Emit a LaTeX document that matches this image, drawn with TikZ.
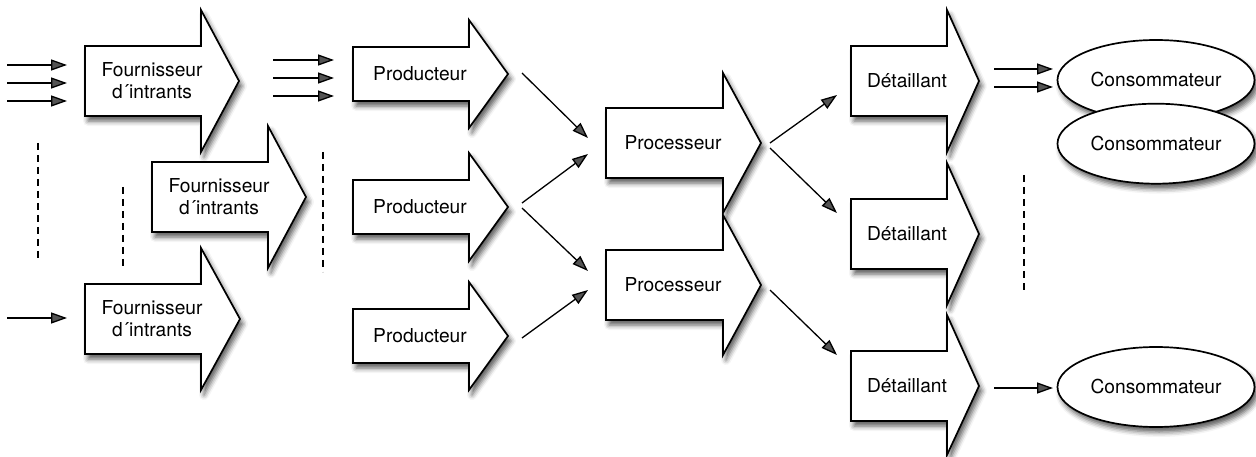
\documentclass[tikz,border=0pt]{standalone}
\usepackage{fontspec}
\setmainfont{TeX Gyre Heros}
\usepackage{tikz}
\usetikzlibrary{positioning}
\usetikzlibrary{arrows.meta}
\usetikzlibrary{shapes.geometric}
\usetikzlibrary{shadows.blur}

\tikzset{
  softshadow/.style={blur shadow={shadow xshift=3pt,shadow yshift=-5pt,shadow blur radius=5pt,shadow opacity=65}},
  flowbox/.style={draw=black,fill=white,line width=1.7pt,line join=miter,softshadow},
  txt/.style={align=center,inner sep=0pt,font=\fontsize{19.2}{22}\selectfont},
  conso/.style={ellipse,draw=black,fill=white,line width=1.7pt,minimum width=197pt,minimum height=80pt,inner sep=0pt,font=\fontsize{19.2}{22}\selectfont,softshadow},
  flow/.style={line width=1.3pt},
  sep/.style={dash pattern=on 7pt off 5pt,line width=1.2pt}
}

\begin{document}
\begin{tikzpicture}[x=1pt,y=-1pt,>={Triangle[length=16pt,width=11pt]}]
\useasboundingbox (0,0) rectangle (1256,457);

% fournisseurs
\draw[flowbox] (85,46) -- (201,46) -- (201,10) -- (239,81) -- (201,152) -- (201,116) -- (85,116) -- cycle;
\node[txt] (four1) at (152,81) {Fournisseur\\d´intrants};
\draw[flowbox] (152,162) -- (268,162) -- (268,126) -- (306,197) -- (268,268) -- (268,232) -- (152,232) -- cycle;
\node[txt] (four2) at (219,197) {Fournisseur\\d´intrants};
\draw[flowbox] (85,284) -- (201,284) -- (201,248) -- (240,319) -- (201,390) -- (201,354) -- (85,354) -- cycle;
\node[txt] (four3) at (152,319) {Fournisseur\\d´intrants};

% producteurs
\draw[flowbox] (353,47) -- (469,47) -- (469,20) -- (508,74) -- (469,128) -- (469,101) -- (353,101) -- cycle;
\node[txt] (prod1) at (420,74) {Producteur};
\draw[flowbox] (353,180) -- (469,180) -- (469,153) -- (508,207) -- (469,261) -- (469,234) -- (353,234) -- cycle;
\node[txt] (prod2) at (420,207) {Producteur};
\draw[flowbox] (353,309) -- (469,309) -- (469,282) -- (508,336) -- (469,390) -- (469,363) -- (353,363) -- cycle;
\node[txt] (prod3) at (420,336) {Producteur};

% processeurs
\draw[flowbox] (606,108) -- (723,108) -- (723,73) -- (761,143) -- (723,213) -- (723,178) -- (606,178) -- cycle;
\node[txt] (proc1) at (673,143) {Processeur};
\draw[flowbox] (606,250) -- (723,250) -- (723,215) -- (761,285) -- (723,355) -- (723,320) -- (606,320) -- cycle;
\node[txt] (proc2) at (673,285) {Processeur};

% detaillants
\draw[flowbox] (851,46) -- (947,46) -- (947,10) -- (979,81) -- (947,152) -- (947,116) -- (851,116) -- cycle;
\node[txt] (det1) at (907,81) {Détaillant};
\draw[flowbox] (851,199) -- (947,199) -- (947,163) -- (979,234) -- (947,305) -- (947,269) -- (851,269) -- cycle;
\node[txt] (det2) at (907,234) {Détaillant};
\draw[flowbox] (851,351) -- (947,351) -- (947,315) -- (979,386) -- (947,455) -- (947,421) -- (851,421) -- cycle;
\node[txt] (det3) at (907,386) {Détaillant};

% consommateurs
\node[conso] (cons1) at (1156,80) {Consommateur};
\node[conso,below = -18pt of cons1] (cons2) {Consommateur};
\node[conso] (cons3) at (1156,387) {Consommateur};

% bouts des fleches
\coordinate (in1a) at (7,65);   \coordinate (in1b) at (7,83);   \coordinate (in1c) at (7,101);
\coordinate (to1a) at (67,65);  \coordinate (to1b) at (67,83);  \coordinate (to1c) at (67,101);
\coordinate (in3) at (7,318);   \coordinate (to3) at (67,318);
\coordinate (out1a) at (273,60);  \coordinate (out1b) at (273,78);  \coordinate (out1c) at (273,96);
\coordinate (pin1a) at (334,60);  \coordinate (pin1b) at (334,78);  \coordinate (pin1c) at (334,96);
\coordinate (pout1) at (522,73);
\coordinate (pout2a) at (522,203);
\coordinate (pout2b) at (522,208);
\coordinate (pout3) at (522,338);
\coordinate (qin1a) at (588,138);
\coordinate (qin1b) at (588,154);
\coordinate (qin2a) at (588,271);
\coordinate (qin2b) at (588,290);
\coordinate (qout1a) at (770,143);
\coordinate (qout1b) at (770,148);
\coordinate (qout2) at (770,290);
\coordinate (din1) at (837,95);
\coordinate (din2) at (837,213);
\coordinate (din3) at (837,355);
\coordinate (dout1a) at (994,69);  \coordinate (cin1a) at (1053,69);
\coordinate (dout1b) at (994,87);  \coordinate (cin1b) at (1053,87);
\coordinate (dout3) at (994,388);  \coordinate (cin3) at (1053,388);

\path (in1a) edge[->,flow] (to1a);
\path (in1b) edge[->,flow] (to1b);
\path (in1c) edge[->,flow] (to1c);
\path (in3) edge[->,flow] (to3);
\path (out1a) edge[->,flow] (pin1a);
\path (out1b) edge[->,flow] (pin1b);
\path (out1c) edge[->,flow] (pin1c);
\path (pout1) edge[->,flow] (qin1a);
\path (pout2a) edge[->,flow] (qin1b);
\path (pout2b) edge[->,flow] (qin2a);
\path (pout3) edge[->,flow] (qin2b);
\path (qout1a) edge[->,flow] (din1);
\path (qout1b) edge[->,flow] (din2);
\path (qout2) edge[->,flow] (din3);
\path (dout1a) edge[->,flow] (cin1a);
\path (dout1b) edge[->,flow] (cin1b);
\path (dout3) edge[->,flow] (cin3);

% pointilles
\draw[sep] (38,143) -- (38,261);
\draw[sep] (123,187) -- (123,268);
\draw[sep] (323,152) -- (323,272);
\draw[sep] (1024,175) -- (1024,293);

\end{tikzpicture}
\end{document}
